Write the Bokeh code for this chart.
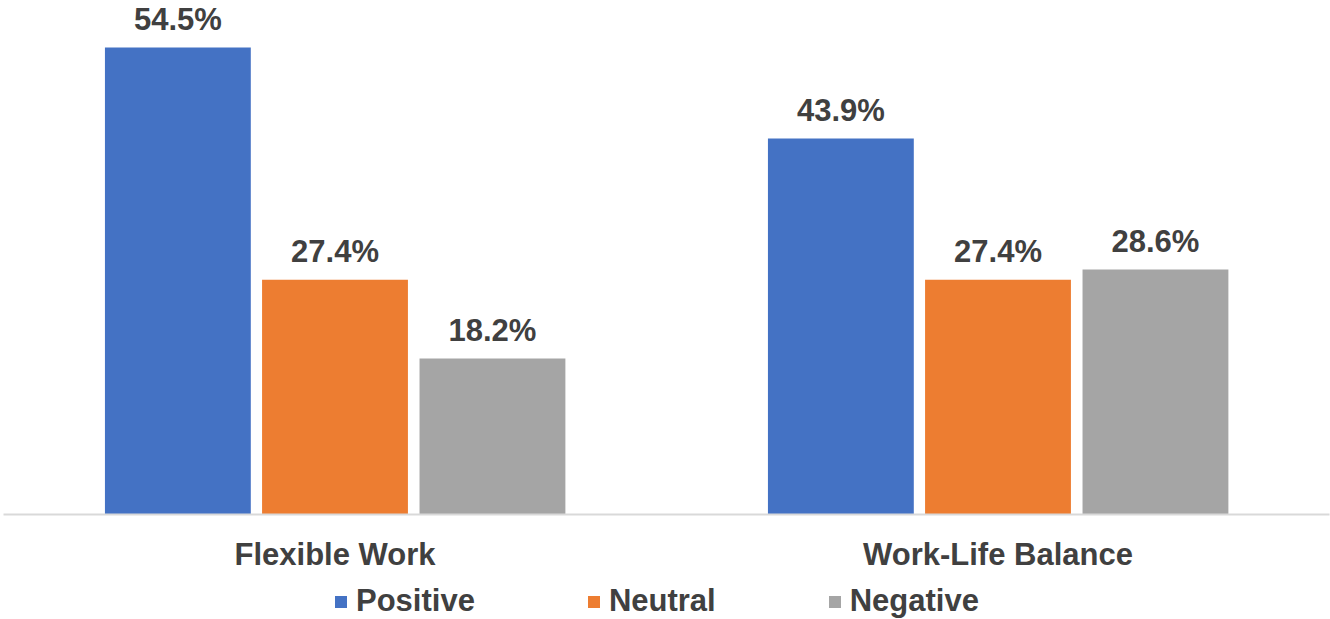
from bokeh.plotting import figure
from bokeh.layouts import column
from bokeh.models import ColumnDataSource, FactorRange, Range1d, Legend, LegendItem
from bokeh.transform import dodge
from bokeh.core.properties import value
from bokeh.embed import file_html
from bokeh.resources import INLINE

categories = ["Flexible Work", "Work-Life Balance"]
series = ["Positive", "Neutral", "Negative"]
positive = [54.5, 43.9]
neutral = [27.4, 27.4]
negative = [18.2, 28.6]
colors = ["#4472C4", "#ED7D31", "#A5A5A5"]

data = dict(cat=categories, Positive=positive, Neutral=neutral, Negative=negative)
for s in series:
    data[s + "_lbl"] = [f"{v:.1f}%" for v in data[s]]
source = ColumnDataSource(data)

FONT = "Liberation Sans"
TXT = "#404040"

p = figure(
    x_range=FactorRange(*categories, range_padding=0, factor_padding=0),
    y_range=Range1d(0, 60),
    width=1330, height=575,
    output_backend="svg", toolbar_location=None,
    min_border_left=3, min_border_right=1, min_border_top=0, min_border_bottom=61,
)

offsets = [-0.237, 0.0, 0.2375]
for s, off, c in zip(series, offsets, colors):
    p.vbar(x=dodge("cat", off, range=p.x_range), top=s, width=0.22,
           source=source, fill_color=c, line_color=None)
    p.text(x=dodge("cat", off, range=p.x_range), y=s, text=s + "_lbl", source=source,
           text_align="center", text_baseline="alphabetic", y_offset=-28,
           text_font=value(FONT), text_font_style="bold", text_font_size="31px",
           text_color=TXT)

p.yaxis.visible = False
p.xgrid.visible = False
p.ygrid.visible = False
p.outline_line_color = None

ax = p.xaxis[0]
ax.axis_line_color = "#D9D9D9"
ax.axis_line_width = 2
ax.major_tick_line_color = None
ax.minor_tick_line_color = None
ax.major_tick_out = 0
ax.major_tick_in = 0
ax.major_label_standoff = 22
ax.major_label_text_font = FONT
ax.major_label_text_font_style = "bold"
ax.major_label_text_font_size = "31px"
ax.major_label_text_color = TXT

# legend strip below the chart (its renderers are hidden; only the legend shows)
p2 = figure(width=1330, height=44,
            x_range=FactorRange(*categories, range_padding=0, factor_padding=0),
            y_range=Range1d(0, 60),
            output_backend="svg", toolbar_location=None,
            min_border_left=0, min_border_right=0, min_border_top=0, min_border_bottom=0)
p2.axis.visible = False
p2.grid.visible = False
p2.outline_line_color = None
leg_renderers = []
for s, off, c in zip(series, offsets, colors):
    r = p2.vbar(x=dodge("cat", off, range=p2.x_range), top=s, width=0.22, source=source,
                fill_color=c, line_color=None)
    r.visible = False
    leg_renderers.append(r)

legend = Legend(
    items=[LegendItem(label=s, renderers=[r]) for s, r in zip(series, leg_renderers)],
    orientation="horizontal", location=(330, 0),
    glyph_width=15, glyph_height=15, label_standoff=8, spacing=111,
    padding=0, margin=0, border_line_color=None, background_fill_alpha=0,
    inactive_fill_alpha=0,
    label_text_font=FONT, label_text_font_style="bold", label_text_font_size="31px",
    label_text_color=TXT,
)
p2.add_layout(legend, "center")

layout = column(p, p2, spacing=0)
open("out.html", "w").write(file_html(layout, INLINE))
